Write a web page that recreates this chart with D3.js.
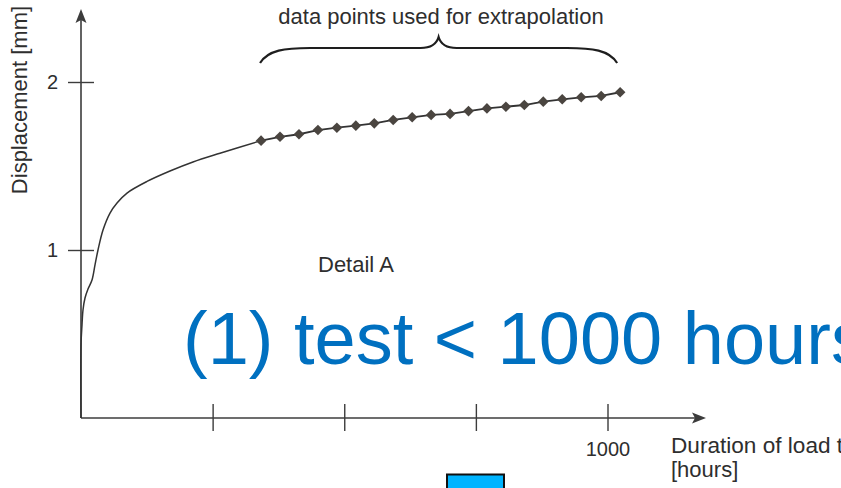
<!DOCTYPE html>
<html>
<head>
<meta charset="utf-8">
<script src="https://cdn.jsdelivr.net/npm/d3@7"></script>
<style>
  html, body { margin: 0; padding: 0; background: #fff; overflow: hidden; }
  svg { display: block; }
  text { font-family: "Liberation Sans", Arial, Helvetica, sans-serif; }
</style>
</head>
<body>
<svg id="chart" width="841" height="488"></svg>
<script>
// ---- data ----
const xTickValues = [250, 500, 750, 1000];
const xTickLabels = ["", "", "", "1000"];
const yTickValues = [1, 2];
const yTickLabels = ["1", "2"];

// continuous creep curve (hours, mm)
const curveHours = [0, 0, 1.9, 3.8, 7.6, 13.3, 20.9, 26.6, 32.3, 41.8, 55.1, 68.4, 87.4, 125.4, 169, 212.7, 264, 342];
const curveDisp  = [0, 0.435, 0.554, 0.643, 0.714, 0.768, 0.821, 0.911, 1.0, 1.119, 1.220, 1.280, 1.339, 1.408, 1.470, 1.524, 1.576, 1.651];

// data points used for extrapolation (hours, mm)
const pointHours = [342, 378, 414, 450, 486, 522, 557, 593, 629, 665, 701, 736, 771, 807, 842, 878, 914, 950, 988, 1024];
const pointDisp  = [1.651, 1.674, 1.689, 1.714, 1.728, 1.740, 1.754, 1.774, 1.790, 1.804, 1.810, 1.827, 1.843, 1.853, 1.863, 1.883, 1.897, 1.909, 1.917, 1.939];

const yAxisTitle = "Displacement [mm]";
const xAxisTitle1 = "Duration of load time";
const xAxisTitle2 = "[hours]";
const braceLabel = "data points used for extrapolation";
const detailLabel = "Detail A";
const bigLabel = "(1) test < 1000 hours";

// ---- layout ----
const svg = d3.select("#chart");
const x = d3.scaleLinear().domain([0, 1000]).range([81, 607.5]);
const y = d3.scaleLinear().domain([0, 2]).range([418, 82]);
const axisColor = "#3c3c3c";
const textColor = "#2e2e2e";

// y axis line + arrow
svg.append("line")
  .attr("x1", x(0)).attr("x2", x(0))
  .attr("y1", y(0)).attr("y2", 20)
  .attr("stroke", axisColor).attr("stroke-width", 1.6);
svg.append("path")
  .attr("d", `M${x(0)},9 L${x(0) - 5.5},23 L${x(0)},20 L${x(0) + 5.5},23 Z`)
  .attr("fill", axisColor);

// x axis line + arrow
svg.append("line")
  .attr("x1", x(0)).attr("x2", 695)
  .attr("y1", y(0)).attr("y2", y(0))
  .attr("stroke", axisColor).attr("stroke-width", 1.6);
svg.append("path")
  .attr("d", `M706,${y(0)} L692,${y(0) - 5.5} L695,${y(0)} L692,${y(0) + 5.5} Z`)
  .attr("fill", axisColor);

// y ticks via d3 axis
const yAxis = svg.append("g")
  .attr("transform", `translate(${x(0)},0)`)
  .call(d3.axisLeft(y).tickValues(yTickValues).tickSize(13).tickPadding(10)
        .tickFormat((d, i) => yTickLabels[i]));
yAxis.select(".domain").remove();
yAxis.selectAll(".tick line").attr("x1", 13).attr("stroke", axisColor).attr("stroke-width", 1.4);
yAxis.selectAll(".tick text").attr("fill", textColor).style("font-size", "20px")
  .style("font-family", "'Liberation Sans', Arial, sans-serif");

// x ticks via d3 axis
const xAxis = svg.append("g")
  .attr("transform", `translate(0,${y(0)})`)
  .call(d3.axisBottom(x).tickValues(xTickValues).tickSize(13).tickPadding(11)
        .tickFormat((d, i) => xTickLabels[i]));
xAxis.select(".domain").remove();
xAxis.selectAll(".tick line").attr("y1", -14).attr("stroke", axisColor).attr("stroke-width", 1.4);
xAxis.selectAll(".tick text").attr("fill", textColor).style("font-size", "20px")
  .style("font-family", "'Liberation Sans', Arial, sans-serif");

// axis titles
svg.append("text")
  .attr("transform", `translate(27,100) rotate(-90)`)
  .attr("text-anchor", "middle")
  .attr("fill", textColor).style("font-size", "22px")
  .text(yAxisTitle);
svg.append("text")
  .attr("x", 671).attr("y", 453)
  .attr("fill", textColor).style("font-size", "22.6px")
  .text(xAxisTitle1);
svg.append("text")
  .attr("x", 671).attr("y", 477)
  .attr("fill", textColor).style("font-size", "22px")
  .text(xAxisTitle2);

// continuous curve
const curveData = curveHours.map((h, i) => [h, curveDisp[i]]);
svg.append("path")
  .datum(curveData)
  .attr("fill", "none")
  .attr("stroke", "#333")
  .attr("stroke-width", 1.5)
  .attr("d", d3.line().x(d => x(d[0])).y(d => y(d[1])).curve(d3.curveCatmullRom.alpha(0.5)));

// extrapolation points
const pts = pointHours.map((h, i) => [h, pointDisp[i]]);
svg.append("path")
  .datum(pts)
  .attr("fill", "none")
  .attr("stroke", "#333")
  .attr("stroke-width", 1.8)
  .attr("d", d3.line().x(d => x(d[0])).y(d => y(d[1])));
svg.append("g").selectAll("path")
  .data(pts)
  .join("path")
  .attr("transform", d => `translate(${x(d[0])},${y(d[1])})`)
  .attr("d", d3.symbol(d3.symbolDiamond2, 72)())
  .attr("fill", "#4a4540");

// brace over the extrapolation points
const bx0 = x(pointHours[0]) - 1;
const bx1 = x(pointHours[pointHours.length - 1]) - 3;
const bm = (bx0 + bx1) / 2;
const by0 = 63, byH = 48, byT = 37;
svg.append("path")
  .attr("d", `M${bx0},${by0} C${bx0 + 8},${byH + 2} ${bx0 + 25},${byH} ${bx0 + 50},${byH}
              L${bm - 18},${byH} C${bm - 8},${byH} ${bm - 2},${byH - 4} ${bm},${byT}
              C${bm + 2},${byH - 4} ${bm + 8},${byH} ${bm + 18},${byH}
              L${bx1 - 50},${byH} C${bx1 - 25},${byH} ${bx1 - 8},${byH + 2} ${bx1},${by0}`)
  .attr("fill", "none").attr("stroke", "#1e1e1e").attr("stroke-width", 2.2);

svg.append("text")
  .attr("x", 441).attr("y", 24)
  .attr("text-anchor", "middle")
  .attr("fill", textColor).style("font-size", "22px")
  .text(braceLabel);

svg.append("text")
  .attr("x", 318).attr("y", 272)
  .attr("fill", textColor).style("font-size", "22px")
  .text(detailLabel);

// big blue overlay label
svg.append("text")
  .attr("x", 183).attr("y", 364)
  .attr("fill", "#0070C0").style("font-size", "74px")
  .text(bigLabel);

// small cyan box at bottom
svg.append("rect")
  .attr("x", 447).attr("y", 474.5)
  .attr("width", 57).attr("height", 20)
  .attr("fill", "#00B4FF").attr("stroke", "#111").attr("stroke-width", 2);
</script>
</body>
</html>
